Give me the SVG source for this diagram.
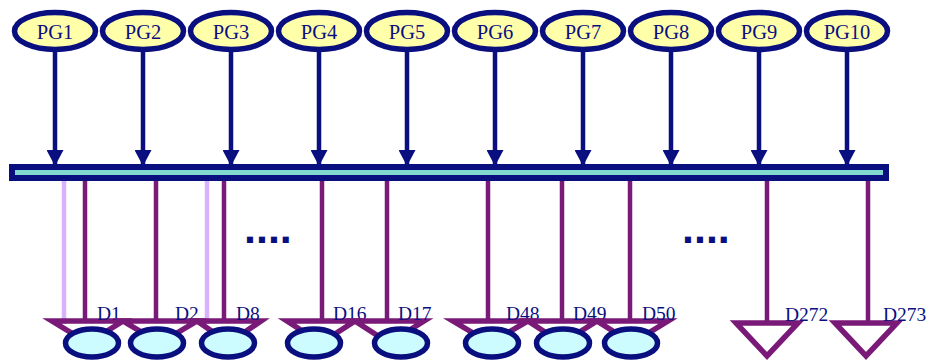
<svg xmlns="http://www.w3.org/2000/svg" width="929" height="360" viewBox="0 0 929 360">
<style>
.pg{fill:#ffffaa;stroke:#0a0f80;stroke-width:5.5}
.d{fill:#ccfcff;stroke:#0a0f80;stroke-width:5.5}
.tri{fill:none;stroke:#7a1a78;stroke-width:5.5;stroke-linejoin:miter}
.pgt{font-family:"Liberation Serif",serif;font-size:20.5px;fill:#0a0f80;text-anchor:middle}
.dt{font-family:"Liberation Serif",serif;font-size:19.5px;fill:#0a0f80}
.arr{stroke:#0a0f80;stroke-width:4.5;fill:none}
.drop{stroke:#7a1a78;stroke-width:4.5}
.ghost{stroke:#d8b2fc;stroke-width:4.5}
.dots{font-family:"Liberation Sans",sans-serif;font-weight:bold;font-size:43px;fill:#0a0f80}
</style>
<defs>
<marker id="ah" markerUnits="userSpaceOnUse" markerWidth="17" markerHeight="17" refX="16" refY="8.5" orient="auto">
<path d="M0,0 L16,8.5 L0,17 z" fill="#0a0f80"/>
</marker>
</defs>
<rect width="929" height="360" fill="#ffffff"/>
<g id="connectors">
<line class="arr" x1="55" y1="52" x2="55" y2="166" marker-end="url(#ah)"/>
<line class="arr" x1="143" y1="52" x2="143" y2="166" marker-end="url(#ah)"/>
<line class="arr" x1="231" y1="52" x2="231" y2="166" marker-end="url(#ah)"/>
<line class="arr" x1="319" y1="52" x2="319" y2="166" marker-end="url(#ah)"/>
<line class="arr" x1="407" y1="52" x2="407" y2="166" marker-end="url(#ah)"/>
<line class="arr" x1="495" y1="52" x2="495" y2="166" marker-end="url(#ah)"/>
<line class="arr" x1="583" y1="52" x2="583" y2="166" marker-end="url(#ah)"/>
<line class="arr" x1="671" y1="52" x2="671" y2="166" marker-end="url(#ah)"/>
<line class="arr" x1="759" y1="52" x2="759" y2="166" marker-end="url(#ah)"/>
<line class="arr" x1="847" y1="52" x2="847" y2="166" marker-end="url(#ah)"/>
<line class="ghost" x1="64" y1="181" x2="64" y2="324"/>
<line class="ghost" x1="207" y1="181" x2="207" y2="324"/>
<line class="drop" x1="85" y1="181" x2="85" y2="321"/>
<line class="drop" x1="156" y1="181" x2="156" y2="321"/>
<line class="drop" x1="224" y1="181" x2="224" y2="321"/>
<line class="drop" x1="322" y1="181" x2="322" y2="321"/>
<line class="drop" x1="387" y1="181" x2="387" y2="321"/>
<line class="drop" x1="488" y1="181" x2="488" y2="321"/>
<line class="drop" x1="562" y1="181" x2="562" y2="321"/>
<line class="drop" x1="630" y1="181" x2="630" y2="321"/>
<line class="drop" x1="767" y1="181" x2="767" y2="322"/>
<line class="drop" x1="868" y1="181" x2="868" y2="322"/>
</g>
<g id="bus">
<rect x="12" y="167" width="874" height="11" fill="#80d8d0" stroke="#0a0f80" stroke-width="6"/>
</g>
<g id="PG1"><ellipse class="pg" cx="55" cy="31" rx="40.5" ry="18.5"/><text class="pgt" x="55" y="39">PG1</text></g>
<g id="PG2"><ellipse class="pg" cx="143" cy="31" rx="40.5" ry="18.5"/><text class="pgt" x="143" y="39">PG2</text></g>
<g id="PG3"><ellipse class="pg" cx="231" cy="31" rx="40.5" ry="18.5"/><text class="pgt" x="231" y="39">PG3</text></g>
<g id="PG4"><ellipse class="pg" cx="319" cy="31" rx="40.5" ry="18.5"/><text class="pgt" x="319" y="39">PG4</text></g>
<g id="PG5"><ellipse class="pg" cx="407" cy="31" rx="40.5" ry="18.5"/><text class="pgt" x="407" y="39">PG5</text></g>
<g id="PG6"><ellipse class="pg" cx="495" cy="31" rx="40.5" ry="18.5"/><text class="pgt" x="495" y="39">PG6</text></g>
<g id="PG7"><ellipse class="pg" cx="583" cy="31" rx="40.5" ry="18.5"/><text class="pgt" x="583" y="39">PG7</text></g>
<g id="PG8"><ellipse class="pg" cx="671" cy="31" rx="40.5" ry="18.5"/><text class="pgt" x="671" y="39">PG8</text></g>
<g id="PG9"><ellipse class="pg" cx="759" cy="31" rx="40.5" ry="18.5"/><text class="pgt" x="759" y="39">PG9</text></g>
<g id="PG10"><ellipse class="pg" cx="847" cy="31" rx="40.5" ry="18.5"/><text class="pgt" x="847" y="39">PG10</text></g>
<g id="D1"><polygon class="tri" points="52,321 123,321 88,343"/><ellipse class="d" cx="92" cy="343" rx="26.5" ry="14"/><text class="dt" x="97" y="320">D1</text></g>
<g id="D2"><polygon class="tri" points="123,321 197,321 160,343"/><ellipse class="d" cx="157" cy="343" rx="26.5" ry="14"/><text class="dt" x="175" y="320">D2</text></g>
<g id="D8"><polygon class="tri" points="197,321 261,321 229,343"/><ellipse class="d" cx="228" cy="343" rx="26.5" ry="14"/><text class="dt" x="236" y="320">D8</text></g>
<g id="D16"><polygon class="tri" points="287,321 355,321 321,343"/><ellipse class="d" cx="314" cy="343" rx="26.5" ry="14"/><text class="dt" x="333" y="320">D16</text></g>
<g id="D17"><polygon class="tri" points="355,321 424,321 389,343"/><ellipse class="d" cx="401" cy="343" rx="26.5" ry="14"/><text class="dt" x="398" y="320">D17</text></g>
<g id="D48"><polygon class="tri" points="453,321 528,321 490,343"/><ellipse class="d" cx="492" cy="343" rx="26.5" ry="14"/><text class="dt" x="506" y="320">D48</text></g>
<g id="D49"><polygon class="tri" points="528,321 597,321 562,343"/><ellipse class="d" cx="563" cy="343" rx="26.5" ry="14"/><text class="dt" x="573" y="320">D49</text></g>
<g id="D50"><polygon class="tri" points="597,321 668,321 632,343"/><ellipse class="d" cx="631" cy="343" rx="26.5" ry="14"/><text class="dt" x="642" y="320">D50</text></g>
<g id="D272"><polygon class="tri" points="736,323 798,323 767,356"/><text class="dt" x="785" y="321">D272</text></g>
<g id="D273"><polygon class="tri" points="835,323 897,323 866,356"/><text class="dt" x="883" y="321">D273</text></g>
<g id="ellipsis1"><text class="dots" x="244" y="243">....</text></g>
<g id="ellipsis2"><text class="dots" x="682" y="243">....</text></g>
</svg>
